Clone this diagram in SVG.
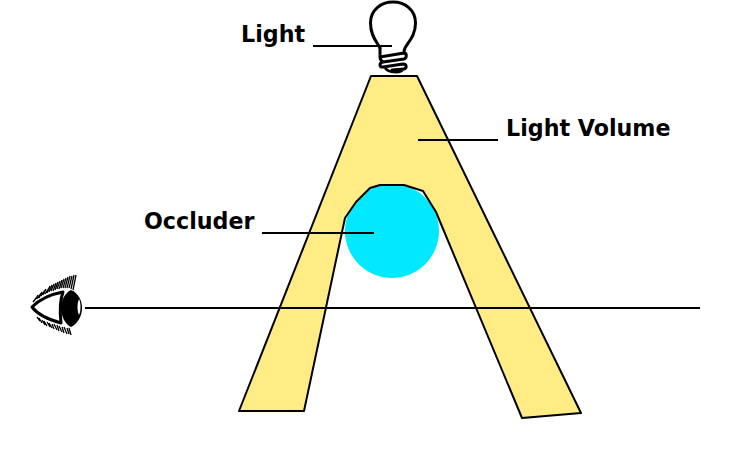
<svg xmlns="http://www.w3.org/2000/svg" width="751" height="461" viewBox="0 0 751 461">
<style>
.lbl{font-family:"DejaVu Sans",sans-serif;font-weight:bold;font-size:22.2px;fill:#000}
.ln{fill:none;stroke:#000;stroke-width:2}
.ic{fill:none;stroke:#000;stroke-linecap:round;stroke-linejoin:round}
.lash{fill:none;stroke:#000;stroke-width:1.3}
</style>
<rect width="751" height="461" fill="#fff"/>
<g id="occluder">
<circle cx="392" cy="231" r="47" fill="#00e9ff"/>
<text class="lbl" x="144" y="229">Occluder</text>
</g>
<g id="light-volume">
<path d="M371 76H417L581 413L522 418L436 212L423 191L404 185H380L370 188L356 202L345 218L304 411H239Z" fill="#ffec84" stroke="#000" stroke-width="2" stroke-linejoin="round"/>
<text class="lbl" x="506" y="136">Light Volume</text>
</g>
<g id="light">
<path class="ic" stroke-width="3" d="M380 48C377 42 370.500 36 370.500 23C370.500 10 381 2 393 2C405 2 415.500 10 415.500 23C415.500 36 408 42 405 48C404 50 404 52 404 53"/>
<path class="ic" stroke-width="3" d="M380 48V57L404 53C407 53 407 58 404 59L383 62C379 63 379 67 383 67L403 64C407 64 407 68 404 69L392 70M383 62C380 60 380 58 380 57M385 67C386 71 392 72 396 72C399 72 402 71 403 69"/>
<text class="lbl" x="241" y="42">Light</text>
</g>
<g id="eye">
<path d="M32 307C40 299 52 294 63 292C60 300 60 314 61 323C50 320 38 315 32 307Z" fill="#fff" stroke="#000" stroke-width="3" stroke-linejoin="round"/>
<path d="M71 290C78 293 82 300 82 308C82 317 77 324 71 327C65 324 61 316 61 308C61 300 65 293 71 290Z" fill="#000"/>
<path d="M79 299C81 303 81 311 79 315C77 311 77 303 79 299Z" fill="#fff"/>
<path class="lash" d="M33 302L37 297M35 300L38 295M37 299L41 293M39 298L42 292M41 296L45 290M43 295L46 289M45 294L49 288M47 293L50 286M49 292L52 285M51 291L54 284M53 291L56 283M55 290L58 282M57 289L60 281M59 289L62 280M61 288L64 279M63 288L66 278M65 288L68 277M67 288L70 276M69 288L72 276M71 289L74 275M73 290L76 275"/>
<path class="lash" d="M37 317L40 321M39 318L42 323M42 320L45 325M44 321L47 326M47 322L50 327M49 323L52 328M52 324L54 329M54 324L57 330M57 325L59 331M59 326L62 332M62 327L64 333M64 327L67 334M67 328L69 334M69 328L71 335"/>
</g>
<g id="connectors">
<path class="ln" d="M313 46H392"/>
<path class="ln" d="M418 140H498"/>
<path class="ln" d="M262 233H374"/>
<path class="ln" d="M85 308H700"/>
</g>
</svg>
